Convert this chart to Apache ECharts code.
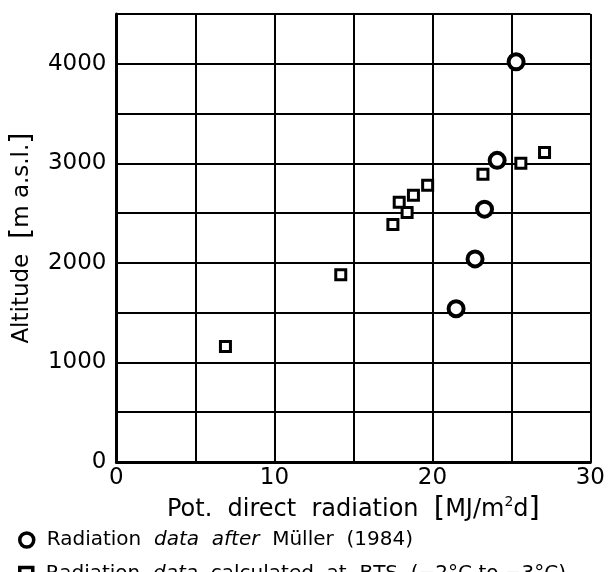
<!DOCTYPE html>
<html>
<head>
<meta charset="utf-8">
<script src="https://cdn.jsdelivr.net/npm/echarts@6/dist/echarts.min.js"></script>
<style>
  html, body { margin: 0; padding: 0; background: #fff; }
  #chart { width: 608px; height: 572px; }
</style>
</head>
<body>
<div id="chart"></div>
<script>
  // Radiation data after Müller (1984): [radiation MJ/m2d, altitude m]
  var mullerRadiation = [25.3, 24.1, 23.3, 22.7, 21.5];
  var mullerAltitude = [4020, 3030, 2540, 2040, 1540];

  // Radiation data calculated at BTS
  var btsRadiation = [27.1, 25.6, 23.2, 19.7, 18.8, 17.9, 18.4, 17.5, 14.2, 6.9];
  var btsAltitude = [3110, 3000, 2890, 2780, 2680, 2610, 2505, 2385, 1880, 1160];

  var xTickLabels = [0, 10, 20, 30];
  var yTickLabels = [0, 1000, 2000, 3000, 4000];

  function pairs(xs, ys) {
    return xs.map(function (x, i) { return [x, ys[i]]; });
  }

  var font = 'DejaVu Sans';
  var chart = echarts.init(document.getElementById('chart'));

  var legendText = {
    color: '#000',
    fontFamily: font,
    fontSize: 20,
    padding: [0, 0, 0, 8],
    rich: {
      it: { fontStyle: 'italic', fontFamily: font, fontSize: 20, color: '#000' }
    }
  };

  var bracketRich = {
    br: { fontFamily: font, fontSize: 29, color: '#000' },
    sup: { fontFamily: font, fontSize: 14, color: '#000', verticalAlign: 'top', padding: [0, 0, 10, 0] }
  };

  var markStyle = { color: '#fff', borderColor: '#000', borderWidth: 3.5, opacity: 1 };

  chart.setOption({
    backgroundColor: '#fff',
    animation: false,
    grid: {
      left: 116,
      right: 15,
      top: 14,
      bottom: 110
    },
    xAxis: {
      type: 'value',
      min: 0,
      max: 30,
      interval: 5,
      name: 'Pot.  direct  radiation  {br|[}MJ/m{sup|2}d{br|]}',
      nameLocation: 'middle',
      nameGap: 27,
      nameTextStyle: {
        color: '#000',
        fontFamily: font,
        fontSize: 24,
        rich: bracketRich
      },
      axisLine: { show: true, lineStyle: { color: '#000', width: 3 } },
      axisTick: { show: false },
      splitLine: { show: true, lineStyle: { color: '#000', width: 2 } },
      axisLabel: {
        color: '#000',
        fontFamily: font,
        fontSize: 23,
        margin: 5,
        formatter: function (v) {
          return xTickLabels.indexOf(v) >= 0 ? String(v) : '';
        }
      }
    },
    yAxis: {
      type: 'value',
      min: 0,
      max: 4500,
      interval: 500,
      name: 'Altitude  {br|[}m a.s.l.{br|]}',
      nameLocation: 'middle',
      nameRotate: 90,
      nameGap: 75,
      nameTextStyle: {
        color: '#000',
        fontFamily: font,
        fontSize: 23,
        rich: bracketRich
      },
      axisLine: { show: true, lineStyle: { color: '#000', width: 3 } },
      axisTick: { show: false },
      splitLine: { show: true, lineStyle: { color: '#000', width: 2 } },
      axisLabel: {
        color: '#000',
        fontFamily: font,
        fontSize: 23,
        margin: 10,
        formatter: function (v) {
          return yTickLabels.indexOf(v) >= 0 ? String(v) : '';
        }
      }
    },
    legend: [
      {
        left: 18,
        top: 530,
        padding: 0,
        itemWidth: 14,
        itemHeight: 14,
        itemStyle: markStyle,
        textStyle: legendText,
        formatter: function () {
          return 'Radiation  {it|data  after}  Müller  (1984)';
        },
        data: ['muller']
      },
      {
        left: 18,
        top: 564,
        padding: 0,
        itemWidth: 13,
        itemHeight: 13,
        itemStyle: markStyle,
        textStyle: legendText,
        formatter: function () {
          return 'Radiation  {it|data}  calculated  at  BTS  (−2°C to −3°C)';
        },
        data: ['bts']
      }
    ],
    series: [
      {
        name: 'muller',
        type: 'scatter',
        symbol: 'circle',
        symbolSize: 15,
        itemStyle: { color: '#fff', borderColor: '#000', borderWidth: 4, opacity: 1 },
        data: pairs(mullerRadiation, mullerAltitude),
        z: 3
      },
      {
        name: 'bts',
        type: 'scatter',
        symbol: 'rect',
        symbolSize: 10,
        itemStyle: { color: '#fff', borderColor: '#000', borderWidth: 3, opacity: 1 },
        data: pairs(btsRadiation, btsAltitude),
        z: 3
      }
    ]
  });
</script>
</body>
</html>
